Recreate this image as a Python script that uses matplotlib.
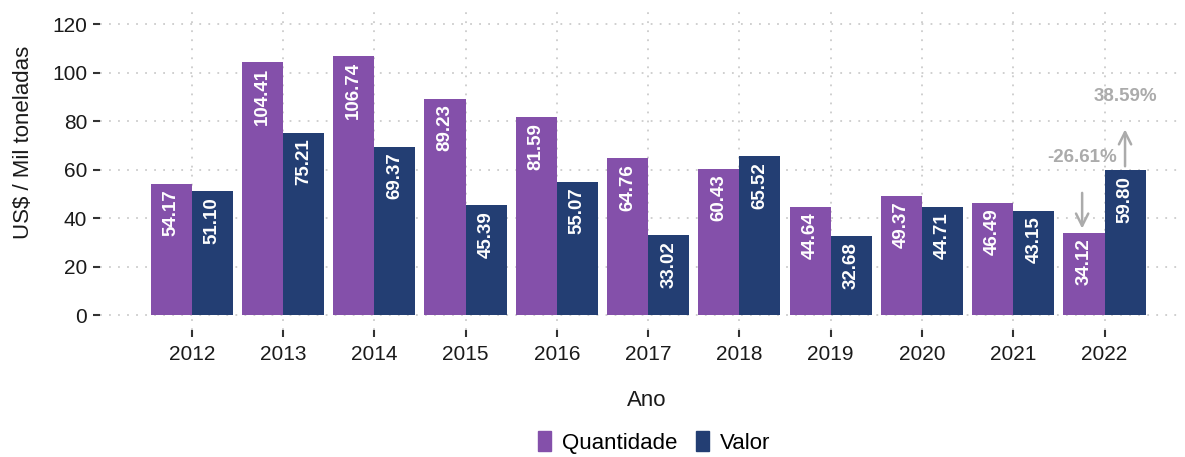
import numpy as np
import matplotlib.pyplot as plt
from matplotlib.patches import Patch

plt.rcParams['font.family'] = ['Liberation Sans', 'DejaVu Sans']

# dados
anos = ['2012', '2013', '2014', '2015', '2016', '2017', '2018', '2019', '2020', '2021', '2022']
quantidade = [54.17, 104.41, 106.74, 89.23, 81.59, 64.76, 60.43, 44.64, 49.37, 46.49, 34.12]
valor = [51.10, 75.21, 69.37, 45.39, 55.07, 33.02, 65.52, 32.68, 44.71, 43.15, 59.80]
var_quant = '-26.61%'
var_valor = '38.59%'

cor_q = '#8450AA'
cor_v = '#233E73'
cinza = '#ABABAB'

fig = plt.figure(figsize=(11.85, 4.57), dpi=100)
ax = fig.add_axes([0.084, 0.278, 0.912, 0.701])

x = np.arange(len(anos))
w = 0.45
ax.bar(x - w/2, quantidade, w, color=cor_q, zorder=2)
ax.bar(x + w/2, valor, w, color=cor_v, zorder=2)

# rotulos dentro das barras
for xs, vals in [(x - w/2, quantidade), (x + w/2, valor)]:
    for xi, v in zip(xs, vals):
        ax.annotate(f'{v:.2f}', (xi, v), xytext=(0, -4), textcoords='offset points',
                    ha='center', va='top', rotation=90, color='white',
                    fontsize=13.5, fontweight='bold', zorder=3)

# setas de variacao em 2022
i = len(anos) - 1
xq = x[i] - w/2 - 0.02
xv = x[i] + w/2
ax.annotate('', xy=(xq, quantidade[i] + 0.5), xytext=(xq, quantidade[i] + 17.5),
            arrowprops=dict(arrowstyle='->', color=cinza, lw=1.8, mutation_scale=22))
ax.text(xq, quantidade[i] + 31, var_quant, ha='center', va='center',
        color=cinza, fontsize=13.5, fontweight='bold')
ax.annotate('', xy=(xv, valor[i] + 18), xytext=(xv, valor[i] + 0.5),
            arrowprops=dict(arrowstyle='->', color=cinza, lw=1.8, mutation_scale=22))
ax.text(xv, valor[i] + 30.5, var_valor, ha='center', va='center',
        color=cinza, fontsize=13.5, fontweight='bold')

ax.set_xlim(-1.01, 10.83)
ax.set_ylim(-6, 126)
ax.set_xticks(x)
ax.set_xticklabels(anos)
ax.set_yticks(np.arange(0, 121, 20))
ax.grid(True, color='#CCCCCC', linestyle=(0, (1, 4)), linewidth=1.3, zorder=0)
ax.set_axisbelow(True)
for s in ax.spines.values():
    s.set_visible(False)
ax.tick_params(axis='both', length=5, width=1.5, color='#333333', labelsize=15,
               labelcolor='#1a1a1a')
ax.tick_params(axis='x', pad=6)
ax.tick_params(axis='y', pad=4)

ax.set_xlabel('Ano', fontsize=16, color='#1a1a1a')
ax.xaxis.set_label_coords(0.506, -0.187)
ax.set_ylabel('US$ / Mil toneladas', fontsize=16, color='#1a1a1a')
ax.yaxis.set_label_coords(-0.061, 0.586)

handles = [Patch(color=cor_q, label='Quantidade'), Patch(color=cor_v, label='Valor')]
fig.legend(handles=handles, loc='center', bbox_to_anchor=(0.552, 0.032), ncol=2,
           frameon=False, fontsize=16, handlelength=0.6, handleheight=1.0,
           handletextpad=0.5, columnspacing=0.8, borderpad=0.2)

fig.savefig('out.png', dpi=100)
